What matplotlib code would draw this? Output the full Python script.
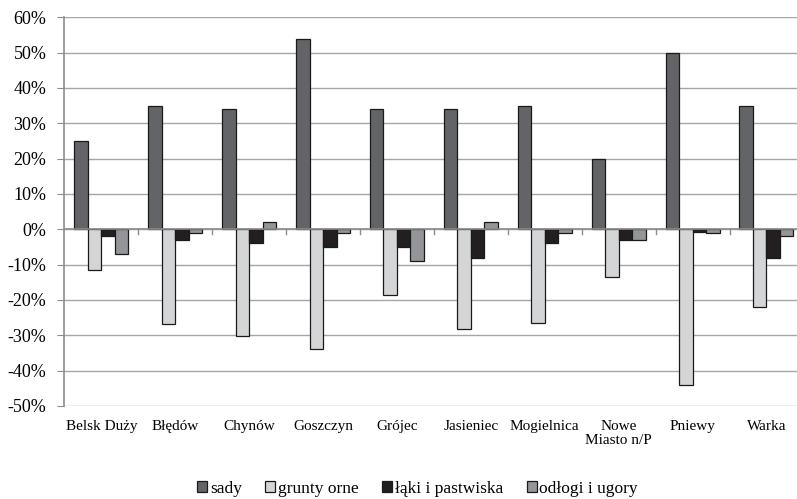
import matplotlib
matplotlib.use("Agg")
import matplotlib.pyplot as plt
import numpy as np
from matplotlib.ticker import FuncFormatter

plt.rcParams['font.family'] = ['Liberation Serif', 'DejaVu Serif']

categories = ["Belsk Duży", "Błędów", "Chynów", "Goszczyn", "Grójec",
              "Jasieniec", "Mogielnica", "Nowe\nMiasto n/P", "Pniewy", "Warka"]
series_names = ["sady", "grunty orne", "łąki i pastwiska", "odłogi i ugory"]
sady = [25, 35, 34, 54, 34, 34, 35, 20, 50, 35]
grunty = [-11.5, -26.8, -30.1, -34, -18.5, -28.2, -26.5, -13.6, -44, -22]
laki = [-2, -3, -4, -5, -5, -8, -4, -3, -0.8, -8]
odlogi = [-7, -1, 2, -1, -9, 2, -1, -3, -1, -2]
yticks = list(range(-50, 61, 10))

colors = ["#636467", "#d4d5d7", "#231f20", "#939598"]
data = [sady, grunty, laki, odlogi]

fig = plt.figure(figsize=(7.97, 4.99), dpi=100)
ax = fig.add_axes([64.4/797, 1-406/499, 739/797, (406-17.3)/499])

x = np.arange(len(categories))
w = 0.1825
for i, (vals, c, name) in enumerate(zip(data, colors, series_names)):
    ax.bar(x + (i - 1.5) * w, vals, width=w, color=c, edgecolor="#1a1a1a",
           linewidth=0.9, label=name, zorder=3)

ax.set_ylim(-50, 60)
ax.set_xlim(-0.5, len(categories) - 0.5)
ax.set_yticks(yticks)
ax.yaxis.set_major_formatter(FuncFormatter(lambda v, p: f"{int(v)}%"))
ax.grid(axis='y', color="#a6a6a6", linewidth=1.0, zorder=0)
ax.set_axisbelow(True)

for s in ["top", "right", "bottom"]:
    ax.spines[s].set_visible(False)
ax.spines["left"].set_color("#8c8c8c")
ax.spines["left"].set_linewidth(1.2)
ax.tick_params(axis='y', length=5, color="#8c8c8c", labelsize=13, pad=8)

# zero line with category boundary ticks
ax.axhline(0, color="#8c8c8c", linewidth=1.2, zorder=4)
for b in np.arange(0.5, len(categories) - 0.5, 1.0):
    ax.plot([b, b], [0, -1.4], color="#8c8c8c", linewidth=1.0, zorder=4)

ax.set_xticks(x)
ax.set_xticklabels(categories, fontsize=11, linespacing=1.15)
ax.tick_params(axis='x', length=0, pad=10)

leg = fig.legend(loc="center", bbox_to_anchor=(0.524, 1 - 489/499), ncol=4,
                 frameon=False, fontsize=12.5, handlelength=0.58, handleheight=0.58,
                 handletextpad=0.15, columnspacing=1.35)

fig.savefig("out.png", dpi=100)
